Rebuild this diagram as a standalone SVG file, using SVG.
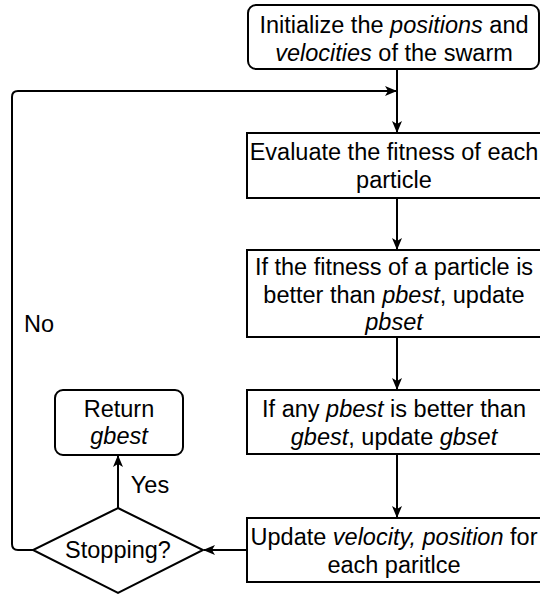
<svg xmlns="http://www.w3.org/2000/svg" width="540" height="595" viewBox="0 0 540 595">
  <style>
    .box { fill: #ffffff; stroke: #000000; stroke-width: 2; }
    .lbl { font-family: "Liberation Sans", Arial, sans-serif; font-size: 23.5px; fill: #000000; text-anchor: middle; }
    .it { font-style: italic; }
    .edge { fill: none; stroke: #000000; stroke-width: 2; }
  </style>
  <defs>
    <marker id="arrow" viewBox="0 0 12 10" refX="11" refY="5" markerWidth="12" markerHeight="10" markerUnits="userSpaceOnUse" orient="auto">
      <path d="M0,0 L12,5 L0,10 L3,5 Z" fill="#000000"/>
    </marker>
  </defs>

  <rect width="540" height="595" fill="#ffffff"/>

  <g id="connectors">
    <line class="edge" x1="397" y1="69" x2="397" y2="132" marker-end="url(#arrow)"/>
    <line class="edge" x1="397" y1="198" x2="397" y2="249" marker-end="url(#arrow)"/>
    <line class="edge" x1="397" y1="337" x2="397" y2="389" marker-end="url(#arrow)"/>
    <line class="edge" x1="397" y1="454" x2="397" y2="517" marker-end="url(#arrow)"/>
    <line class="edge" x1="247" y1="550" x2="204" y2="550" marker-end="url(#arrow)"/>
    <line class="edge" x1="118" y1="508" x2="118" y2="456" marker-end="url(#arrow)"/>
    <path class="edge" d="M33,550 H18 Q12,550 12,544 V97 Q12,91 18,91 H396" marker-end="url(#arrow)"/>
    <text class="lbl" x="39" y="332">No</text>
    <text class="lbl" x="150" y="493">Yes</text>
  </g>

  <g id="init">
    <rect class="box" x="248" y="5" width="291" height="64" rx="8"/>
    <text class="lbl" x="394" y="32.5">Initialize the <tspan class="it">positions</tspan> and</text>
    <text class="lbl" x="394" y="61"><tspan class="it">velocities</tspan> of the swarm</text>
  </g>

  <g id="evaluate">
    <rect class="box" x="247" y="133" width="300" height="65"/>
    <text class="lbl" x="394" y="160">Evaluate the fitness of each</text>
    <text class="lbl" x="394" y="188">particle</text>
  </g>

  <g id="pbest">
    <rect class="box" x="247" y="250" width="300" height="87"/>
    <text class="lbl" x="394" y="275">If the fitness of a particle is</text>
    <text class="lbl" x="394" y="303">better than <tspan class="it">pbest</tspan>, update</text>
    <text class="lbl it" x="394" y="330">pbset</text>
  </g>

  <g id="gbest">
    <rect class="box" x="247" y="390" width="300" height="64"/>
    <text class="lbl" x="394" y="417">If any <tspan class="it">pbest</tspan> is better than</text>
    <text class="lbl" x="394" y="445"><tspan class="it">gbest</tspan>, update <tspan class="it">gbset</tspan></text>
  </g>

  <g id="update">
    <rect class="box" x="247" y="518" width="300" height="64"/>
    <text class="lbl" x="394" y="545">Update <tspan class="it">velocity, position</tspan> for</text>
    <text class="lbl" x="394" y="573">each paritlce</text>
  </g>

  <g id="stopping">
    <polygon class="box" points="118,508 203,550 118,593 33,550"/>
    <text class="lbl" x="118" y="558">Stopping?</text>
  </g>

  <g id="return">
    <rect class="box" x="55" y="390" width="128" height="65" rx="8"/>
    <text class="lbl" x="119" y="417">Return</text>
    <text class="lbl it" x="119" y="444">gbest</text>
  </g>
</svg>
